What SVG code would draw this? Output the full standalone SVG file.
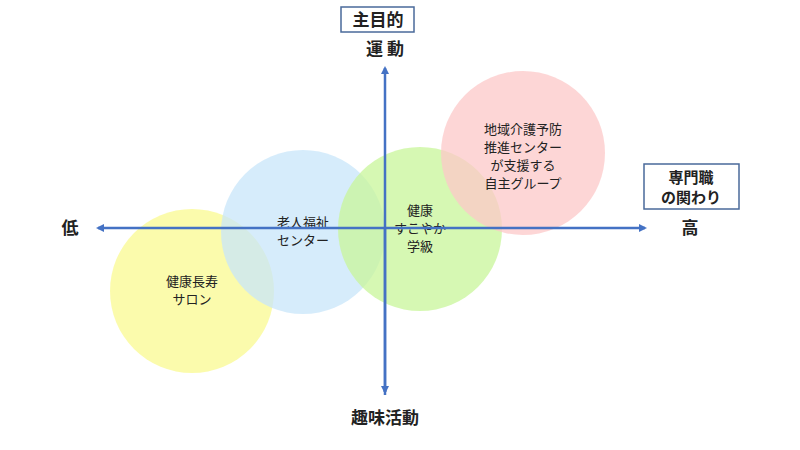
<svg xmlns="http://www.w3.org/2000/svg" width="800" height="450" viewBox="0 0 800 450">
<style>
text{font-family:"Noto Sans CJK JP",sans-serif;fill:#222;text-anchor:middle}
.b{font-weight:bold;font-size:17px}
.n{font-size:13px}
.box{fill:#fff;stroke:#4a6a9a;stroke-width:1.5}
.ax{stroke:#4472c4;stroke-width:2.5;fill:none}
</style>
<defs><marker id="ah" markerWidth="8" markerHeight="8" refX="6" refY="4" orient="auto" markerUnits="userSpaceOnUse"><path d="M0,0 L8,4 L0,8 z" fill="#4472c4"/></marker></defs>
<g id="circles">
<g id="n1"><circle cx="192" cy="291" r="82" fill="#fafa90" fill-opacity="0.75"/><text class="n" x="192" y="286">健康長寿</text><text class="n" x="192" y="304">サロン</text></g>
<g id="n2"><circle cx="303" cy="232" r="82" fill="#c8e6fa" fill-opacity="0.75"/><text class="n" x="303" y="227">老人福祉</text><text class="n" x="303" y="245">センター</text></g>
<g id="n3"><circle cx="420" cy="229" r="82" fill="#c8f59a" fill-opacity="0.75"/><text class="n" x="420" y="215">健康</text><text class="n" x="420" y="233">すこやか</text><text class="n" x="420" y="251">学級</text></g>
<g id="n4"><circle cx="523" cy="153" r="82" fill="#fcc8c8" fill-opacity="0.75"/><text class="n" x="523" y="134">地域介護予防</text><text class="n" x="523" y="152">推進センター</text><text class="n" x="523" y="170">が支援する</text><text class="n" x="523" y="188">自主グループ</text></g>
</g>
<g id="connectors">
<line class="ax" x1="385" y1="390" x2="385" y2="68" marker-end="url(#ah)"/>
<line class="ax" x1="385" y1="390" x2="385" y2="392"/>
<path class="ax" d="M385,390 L385,395" />
<line class="ax" x1="385" y1="228" x2="645" y2="228" marker-end="url(#ah)"/>
<line class="ax" x1="385" y1="228" x2="98" y2="228" marker-end="url(#ah)"/>
<line class="ax" x1="385" y1="228" x2="385" y2="392" marker-end="url(#ah)"/>
</g>
<g id="labels">
<rect class="box" x="341" y="7" width="73" height="25"/><text class="b" x="378" y="26">主目的</text>
<text class="b" x="385" y="55">運 動</text>
<text class="b" x="385" y="424">趣味活動</text>
<text class="b" x="70" y="234">低</text>
<text class="b" x="690" y="234">高</text>
<rect class="box" x="644" y="164" width="95" height="45"/><text class="b" x="691" y="183" style="font-size:15px">専門職</text><text class="b" x="691" y="203" style="font-size:15px">の関わり</text>
</g>
</svg>
